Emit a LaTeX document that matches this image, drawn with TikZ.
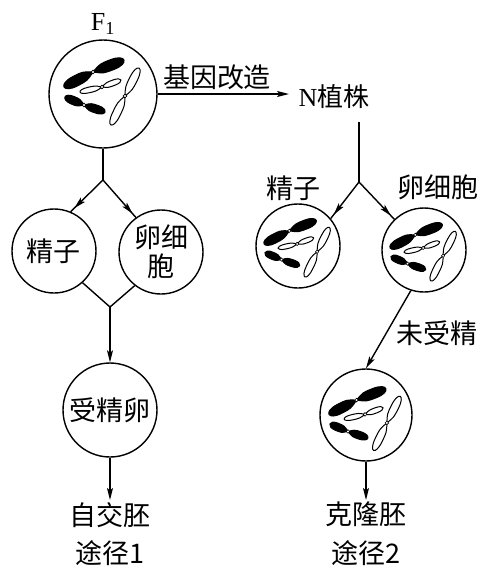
\documentclass[tikz,border=0pt]{standalone}
\usepackage{fontspec}
\setmainfont{Liberation Serif}
\newfontfamily\cjk{Noto Sans CJK SC}
\usetikzlibrary{arrows.meta,decorations.markings}

% one chromosome arm: centromere (#1,#2), tip (#3,#4), half width #5, fill #6
\newcommand\chrarm[6]{%
  \pgfmathsetmacro\armang{atan2(-((#4)-(#2)),(#3)-(#1))}%
  \pgfmathsetmacro\armlen{veclen((#3)-(#1),(#4)-(#2))}%
  \pgfmathsetmacro\arma{0.28*\armlen}%
  \pgfmathsetmacro\armb{0.62*\armlen}%
  \pgfmathsetmacro\armc{1.127*\armlen}%
  \begin{scope}[shift={(#1,#2)},rotate=\armang]
    \filldraw[fill=#6,line width=1pt,line join=round]
      (0,0) .. controls (\arma,#5) .. (\armb,#5)
      .. controls (\armc,#5) and (\armc,-#5) .. (\armb,-#5)
      .. controls (\arma,-#5) .. (0,0) -- cycle;
  \end{scope}}
% a whole chromosome: two arms and the centromere dot
\newcommand\chromo[8]{%
  \chrarm{#1}{#2}{#3}{#4}{#7}{#8}%
  \chrarm{#1}{#2}{#5}{#6}{#7}{#8}%
  \filldraw[fill=white,line width=0.6pt] (#1,#2) circle [radius=1.9];}
% the set of four chromosomes inside a cell
\newcommand\chromset{%
  \chromo{-10}{-22}{-39}{-7}{21}{-34}{5.2}{black}%
  \chromo{-19}{11}{-38}{3}{2}{18}{4}{black}%
  \chromo{-1}{-7}{-23}{-2}{18}{-14}{2.8}{white}%
  \chromo{22}{2}{8}{31}{36}{-26}{4}{white}}

\begin{document}
\begin{tikzpicture}[x=1pt,y=-1pt,line width=1.4pt,
  cjkfont/.style={font=\cjk\fontsize{27pt}{29pt}\selectfont},
  latinfont/.style={font=\fontsize{26pt}{28pt}\selectfont},
  cell/.style={circle,draw,line width=1.4pt,inner sep=0pt,cjkfont,align=center},
  lbl/.style={cjkfont,inner sep=0pt},
  arr/.style={-{Stealth[length=12pt,width=6pt,inset=2.5pt]}},
  midarr/.style={postaction={decorate},decoration={markings,
    mark=at position -5pt with {\arrow{Stealth[length=12pt,width=6pt,inset=2.5pt]}}}}]
\useasboundingbox (0,0) rectangle (481,566);

% F1 cell and the engineered plant
\node[latinfont,inner sep=0pt] (f1lbl) at (103,24) {F\textsubscript{1}};
\node[cell,minimum size=108pt] (f1) at (103,94) {};
\begin{scope}[shift={(f1.center)}] \chromset \end{scope}
\node[lbl] (gm) at (217,77) {基因改造};
\node[latinfont,inner sep=0pt] (np) at (334,97) {N{\cjk 植株}};
\coordinate (gmend) at (289,94);
\draw[arr] (f1.east) -- (gmend);

% route 1: selfing
\coordinate (lb) at (103,180);
\draw (f1.south) -- (lb);
\node[cell,minimum size=84pt] (sz1) at (54,251) {精子};
\node[cell,minimum size=84pt] (lx1) at (161,252) {卵细\\胞};
\draw[midarr] (lb) -- (sz1.67);
\draw[midarr] (lb) -- (lx1.126);
\coordinate (m1) at (110,307);
\draw (sz1.-48) -- (m1) -- (lx1.-128);
\node[cell,minimum size=94pt] (zy) at (110,410) {受精卵};
\draw[arr] (m1) -- (zy.north);
\node[lbl,anchor=north,inner sep=1.5pt] (zj) at (110,500) {自交胚};
\draw[arr] (zy.south) -- (zj.north);
\node[lbl] (tj1) at (110,553) {途径1};

% route 2: cloning
\coordinate (ntop) at (359,122);
\coordinate (rb) at (359,182);
\draw (ntop) -- (rb);
\node[lbl] (sz2l) at (293,188) {精子};
\node[lbl] (lx2l) at (438,187) {卵细胞};
\node[cell,minimum size=84pt] (sz2) at (298,246) {};
\begin{scope}[shift={(sz2.center)},yshift=-4pt,scale=0.87] \chromset \end{scope}
\node[cell,minimum size=84pt] (lx2) at (424,250) {};
\begin{scope}[shift={(lx2.center)},yshift=-4pt,scale=0.87] \chromset \end{scope}
\draw[midarr] (rb) -- (sz2.40);
\draw[midarr] (rb) -- (lx2.134);
\node[cell,minimum size=92pt] (cl) at (366,415) {};
\begin{scope}[shift={(cl.center)},yshift=-6pt,scale=0.95] \chromset \end{scope}
\draw[arr] (lx2.-108) -- (cl.north);
\node[lbl] (wsj) at (437,333) {未受精};
\node[lbl,anchor=north,inner sep=1.5pt] (kl) at (366,500) {克隆胚};
\draw[arr] (cl.south) -- (kl.north);
\node[lbl] (tj2) at (366,553) {途径2};
\end{tikzpicture}
\end{document}
